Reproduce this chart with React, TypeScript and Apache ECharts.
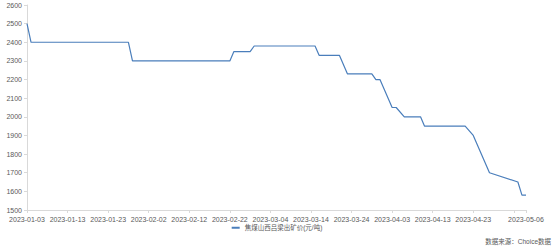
import React, { useEffect, useRef } from "react";
import * as echarts from "echarts";

const seriesName = "焦煤山西吕梁出矿价(元/吨)";
const startDate = "2023-01-03";
const endDate = "2023-05-06";
const pointDates = [
  "2023-01-03", "2023-01-04", "2023-01-28", "2023-01-29", "2023-02-22", "2023-02-23",
  "2023-02-27", "2023-02-28", "2023-03-15", "2023-03-16", "2023-03-21", "2023-03-23",
  "2023-03-29", "2023-03-30", "2023-03-31", "2023-04-03", "2023-04-04", "2023-04-06",
  "2023-04-10", "2023-04-11", "2023-04-21", "2023-04-23", "2023-04-27", "2023-05-04",
  "2023-05-05", "2023-05-06",
];
const pointValues = [
  2500, 2400, 2400, 2300, 2300, 2350,
  2350, 2380, 2380, 2330, 2330, 2230,
  2230, 2200, 2200, 2050, 2050, 2000,
  2000, 1950, 1950, 1900, 1700, 1650,
  1580, 1580,
];
const yTicks = [1500, 1600, 1700, 1800, 1900, 2000, 2100, 2200, 2300, 2400, 2500, 2600];

function buildDays(a: string, b: string): string[] {
  const out: string[] = [];
  const d = new Date(a + "T00:00:00Z");
  const end = new Date(b + "T00:00:00Z");
  while (d.getTime() <= end.getTime()) {
    out.push(d.toISOString().slice(0, 10));
    d.setUTCDate(d.getUTCDate() + 1);
  }
  return out;
}

export default function App() {
  const ref = useRef<HTMLDivElement>(null);
  useEffect(() => {
    if (!ref.current) return;
    const chart = echarts.init(ref.current, undefined, { renderer: "svg" });
    const days = buildDays(startDate, endDate);
    const lookup: Record<string, number> = {};
    pointDates.forEach((d, i) => (lookup[d] = pointValues[i]));
    const data = days.map((d) => (d in lookup ? lookup[d] : null));
    const last = days.length - 1;
    const font = "'Liberation Sans', 'Noto Sans CJK SC', sans-serif";
    chart.setOption({
      animation: false,
      backgroundColor: "#ffffff",
      grid: { left: 27, right: 28, top: 5, bottom: 41, containLabel: false },
      legend: {
        bottom: 15,
        left: "center",
        itemWidth: 8,
        itemHeight: 2,
        itemGap: 4,
        icon: "rect",
        textStyle: { fontSize: 6.5, color: "#595959", fontFamily: font },
        data: [seriesName],
      },
      graphic: [
        {
          type: "text",
          right: 3,
          bottom: 6,
          style: { text: "数据来源：Choice数据", fontSize: 6.5, fill: "#595959", fontFamily: font },
        },
      ],
      xAxis: {
        type: "category",
        data: days,
        boundaryGap: false,
        axisLine: { lineStyle: { color: "#d9d9d9" } },
        axisTick: {
          interval: (i: number) => i % 10 === 0 || i === last,
          length: 3,
          lineStyle: { color: "#d9d9d9" },
        },
        axisLabel: {
          interval: (i: number) => (i % 10 === 0 && i <= last - 10) || i === last,
          fontSize: 7,
          color: "#595959",
          fontFamily: font,
          margin: 6,
        },
      },
      yAxis: {
        type: "value",
        min: yTicks[0],
        max: yTicks[yTicks.length - 1],
        interval: 100,
        axisLine: { show: true, lineStyle: { color: "#d9d9d9" } },
        axisTick: { show: true, length: 3, lineStyle: { color: "#d9d9d9" } },
        splitLine: { show: false },
        axisLabel: {
          fontSize: 7,
          color: "#595959",
          fontFamily: font,
          margin: 5,
          formatter: (v: number) => String(v),
        },
      },
      series: [
        {
          name: seriesName,
          type: "line",
          data,
          connectNulls: true,
          showSymbol: false,
          symbol: "none",
          lineStyle: { color: "#4a7ebb", width: 1.2 },
          itemStyle: { color: "#4a7ebb" },
        },
      ],
    });
    return () => chart.dispose();
  }, []);
  return (
    <div
      ref={ref}
      style={{ position: "absolute", left: 0, top: 0, width: 554, height: 251 }}
    />
  );
}
